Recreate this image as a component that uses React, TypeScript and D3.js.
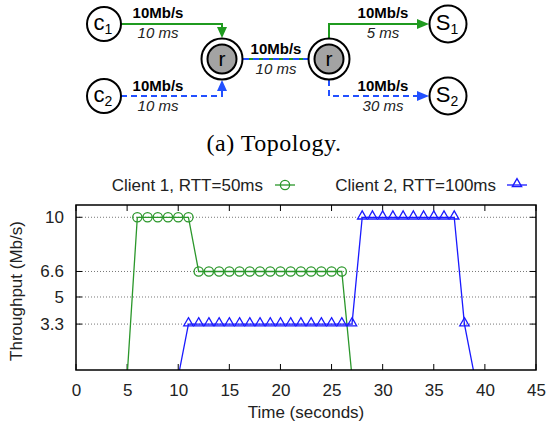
import * as d3 from "d3";
import { useEffect, useRef } from "react";

// Data
const client1Times = [5, 6, 7, 8, 9, 10, 11, 12, 13, 14, 15, 16, 17, 18, 19, 20, 21, 22, 23, 24, 25, 26, 27];
const client1Values = [0, 10, 10, 10, 10, 10, 10, 6.6, 6.6, 6.6, 6.6, 6.6, 6.6, 6.6, 6.6, 6.6, 6.6, 6.6, 6.6, 6.6, 6.6, 6.6, 0];
const client2Times = [10, 11, 12, 13, 14, 15, 16, 17, 18, 19, 20, 21, 22, 23, 24, 25, 26, 27, 28, 29, 30, 31, 32, 33, 34, 35, 36, 37, 38, 39];
const client2Values = [0, 3.3, 3.3, 3.3, 3.3, 3.3, 3.3, 3.3, 3.3, 3.3, 3.3, 3.3, 3.3, 3.3, 3.3, 3.3, 3.3, 3.3, 10, 10, 10, 10, 10, 10, 10, 10, 10, 10, 3.3, 0];
const xTicks = [0, 5, 10, 15, 20, 25, 30, 35, 40, 45];
const yTicks = [3.3, 5, 6.6, 10];
const seriesNames = ["Client 1, RTT=50ms", "Client 2, RTT=100ms"];

const GREEN = "#2b972b";
const BLUE = "#1a1aff";
const TOPO_GREEN = "#1f9a1f";
const TOPO_BLUE = "#2250ff";
const SANS = "'Liberation Sans', Arial, sans-serif";
const INK = "#222";

const drawTopology = (svg) => {
  const g = svg.append("g");

  // links
  const solid = (pts, color) =>
    g.append("path").attr("d", d3.line()(pts)).attr("fill", "none")
      .attr("stroke", color).attr("stroke-width", 2);
  const dashed = (pts, color) =>
    g.append("path").attr("d", d3.line()(pts)).attr("fill", "none")
      .attr("stroke", color).attr("stroke-width", 2).attr("stroke-dasharray", "6,4");
  const arrow = (x, y, dir, color) => {
    // dir: "down" | "up" | "right"
    let pts;
    if (dir === "down") pts = [[x, y], [x - 5, y - 11], [x + 5, y - 11]];
    else if (dir === "up") pts = [[x, y], [x - 5, y + 11], [x + 5, y + 11]];
    else pts = [[x, y], [x - 12, y - 5], [x - 12, y + 5]];
    g.append("polygon").attr("points", pts.map(p => p.join(",")).join(" ")).attr("fill", color);
  };

  solid([[121, 24], [222, 24], [222, 30]], TOPO_GREEN);
  arrow(222, 38, "down", TOPO_GREEN);
  dashed([[121, 96], [222, 96], [222, 89]], TOPO_BLUE);
  arrow(222, 80, "up", TOPO_BLUE);

  solid([[243, 59], [308, 59]], TOPO_GREEN);
  dashed([[243, 59], [308, 59]], TOPO_BLUE);

  solid([[329, 38], [329, 24], [420, 24]], TOPO_GREEN);
  arrow(429, 24, "right", TOPO_GREEN);
  dashed([[329, 80], [329, 96], [420, 96]], TOPO_BLUE);
  arrow(429, 96, "right", TOPO_BLUE);

  // end nodes
  const node = (cx, cy, r, letter, sub) => {
    g.append("circle").attr("cx", cx).attr("cy", cy).attr("r", r)
      .attr("fill", "white").attr("stroke", "black").attr("stroke-width", 2);
    const t = g.append("text").attr("x", cx - 1).attr("y", cy + 6)
      .attr("text-anchor", "middle").style("font-family", SANS).style("font-size", "22px");
    t.append("tspan").text(letter);
    t.append("tspan").attr("dy", 4).style("font-size", "14px").text(sub);
  };
  node(104, 24, 17, "c", "1");
  node(104, 96, 17, "c", "2");
  node(448, 24, 18.5, "S", "1");
  node(448, 96, 18.5, "S", "2");

  // routers
  [222, 329].forEach(cx => {
    g.append("circle").attr("cx", cx).attr("cy", 59).attr("r", 20.5)
      .attr("fill", "white").attr("stroke", "black").attr("stroke-width", 2);
    g.append("circle").attr("cx", cx).attr("cy", 59).attr("r", 14.5)
      .attr("fill", "#a3a3a3").attr("stroke", "black").attr("stroke-width", 2);
    g.append("text").attr("x", cx).attr("y", 66).attr("text-anchor", "middle")
      .style("font-family", SANS).style("font-size", "21px").text("r");
  });

  // link labels
  const linkLabels = [
    { x: 158, y: 18, rate: "10Mb/s", delay: "10 ms" },
    { x: 158, y: 90.5, rate: "10Mb/s", delay: "10 ms" },
    { x: 276, y: 54, rate: "10Mb/s", delay: "10 ms" },
    { x: 383, y: 18, rate: "10Mb/s", delay: "5 ms" },
    { x: 383, y: 90.5, rate: "10Mb/s", delay: "30 ms" },
  ];
  linkLabels.forEach(l => {
    g.append("text").attr("x", l.x).attr("y", l.y).attr("text-anchor", "middle")
      .style("font-family", SANS).style("font-size", "15px").style("font-weight", "bold")
      .text(l.rate);
    g.append("text").attr("x", l.x).attr("y", l.y + 20).attr("text-anchor", "middle")
      .style("font-family", SANS).style("font-size", "15px").style("font-style", "italic")
      .style("fill", "#222").text(l.delay);
  });

  // caption
  svg.append("text").attr("x", 274).attr("y", 151).attr("text-anchor", "middle")
    .style("font-family", "'Liberation Serif', 'Times New Roman', serif")
    .style("font-size", "24px").style("letter-spacing", "0.5px")
    .text("(a) Topology.");
};

const drawChart = (svg) => {
  const margin = { top: 205, left: 76, right: 13, bottom: 54 };
  const width = 549 - margin.left - margin.right;
  const height = 424 - margin.top - margin.bottom;

  const g = svg.append("g").attr("transform", `translate(${margin.left},${margin.top})`);

  const xScale = d3.scaleLinear().domain([0, 45]).range([0, width]);
  const yScale = d3.scaleLinear().domain([0.42, 10.77]).range([height, 0]);

  // grid
  g.selectAll(".grid").data(yTicks).enter().append("line")
    .attr("x1", 0).attr("x2", width)
    .attr("y1", d => yScale(d)).attr("y2", d => yScale(d))
    .attr("stroke", "#777").attr("stroke-width", 1).attr("stroke-dasharray", "1,2");

  // axes: labels via d3 axes, inward ticks
  const xAxis = d3.axisBottom(xScale).tickValues(xTicks).tickSize(0).tickPadding(14);
  const xg = g.append("g").attr("transform", `translate(0,${height})`).call(xAxis);
  xg.select(".domain").remove();
  xg.selectAll("text").style("font-family", SANS).style("font-size", "17px").style("fill", INK);

  const yAxis = d3.axisLeft(yScale).tickValues(yTicks).tickFormat(d3.format("")).tickSize(0).tickPadding(12);
  const yg = g.append("g").call(yAxis);
  yg.select(".domain").remove();
  yg.selectAll("text").style("font-family", SANS).style("font-size", "17px").style("fill", INK);

  // inward tick marks
  xTicks.forEach(t => {
    g.append("line").attr("x1", xScale(t)).attr("x2", xScale(t)).attr("y1", height).attr("y2", height - 6)
      .attr("stroke", "black");
    g.append("line").attr("x1", xScale(t)).attr("x2", xScale(t)).attr("y1", 0).attr("y2", 6)
      .attr("stroke", "black");
  });
  yTicks.forEach(t => {
    g.append("line").attr("x1", 0).attr("x2", 6).attr("y1", yScale(t)).attr("y2", yScale(t))
      .attr("stroke", "black");
    g.append("line").attr("x1", width).attr("x2", width - 6).attr("y1", yScale(t)).attr("y2", yScale(t))
      .attr("stroke", "black");
  });

  // clip
  svg.append("defs").append("clipPath").attr("id", "plot-clip")
    .append("rect").attr("width", width).attr("height", height);
  const plot = g.append("g").attr("clip-path", "url(#plot-clip)");

  const line = d3.line().x(d => xScale(d.t)).y(d => yScale(d.v));
  const s1 = client1Times.map((t, i) => ({ t, v: client1Values[i] }));
  const s2 = client2Times.map((t, i) => ({ t, v: client2Values[i] }));
  const inRange = d => d.v >= yScale.domain()[0] && d.v <= yScale.domain()[1];

  plot.append("path").datum(s1).attr("fill", "none").attr("stroke", GREEN).attr("stroke-width", 1.3).attr("d", line);
  plot.append("path").datum(s2).attr("fill", "none").attr("stroke", BLUE).attr("stroke-width", 1.3).attr("d", line);

  plot.selectAll(".c1").data(s1.filter(inRange)).enter().append("circle")
    .attr("cx", d => xScale(d.t)).attr("cy", d => yScale(d.v)).attr("r", 4.6)
    .attr("fill", "none").attr("stroke", GREEN).attr("stroke-width", 1.3);

  const tri = d3.symbol().type(d3.symbolTriangle).size(38);
  plot.selectAll(".c2").data(s2.filter(inRange)).enter().append("path")
    .attr("d", tri).attr("transform", d => `translate(${xScale(d.t)},${yScale(d.v) - 1})`)
    .attr("fill", "none").attr("stroke", BLUE).attr("stroke-width", 1.3);

  // border
  g.append("rect").attr("width", width).attr("height", height)
    .attr("fill", "none").attr("stroke", "black").attr("stroke-width", 1.5);

  // axis names
  svg.append("text").attr("text-anchor", "middle")
    .attr("x", margin.left + width / 2).attr("y", 418)
    .style("font-family", SANS).style("font-size", "17px").style("fill", INK)
    .text("Time (seconds)");
  svg.append("text").attr("text-anchor", "middle")
    .attr("transform", "rotate(-90)")
    .attr("x", -291).attr("y", 22)
    .style("font-family", SANS).style("font-size", "17px").style("fill", INK)
    .text("Throughput (Mb/s)");

  // legend
  const legend = [
    { textX: 263, x0: 275, name: seriesNames[0], color: GREEN, marker: "circle" },
    { textX: 496, x0: 507, name: seriesNames[1], color: BLUE, marker: "tri" },
  ];
  legend.forEach(l => {
    svg.append("text").attr("x", l.textX).attr("y", 190.5).attr("text-anchor", "end")
      .style("font-family", SANS).style("font-size", "17px").style("fill", INK).text(l.name);
    svg.append("line").attr("x1", l.x0).attr("x2", l.x0 + 20).attr("y1", 185).attr("y2", 185)
      .attr("stroke", l.color).attr("stroke-width", 1.3);
    if (l.marker === "circle") {
      svg.append("circle").attr("cx", l.x0 + 10).attr("cy", 185).attr("r", 4.6)
        .attr("fill", "none").attr("stroke", l.color).attr("stroke-width", 1.3);
    } else {
      svg.append("path").attr("d", tri).attr("transform", `translate(${l.x0 + 10},184)`)
        .attr("fill", "none").attr("stroke", l.color).attr("stroke-width", 1.3);
    }
  });
};

export default function App() {
  const ref = useRef(null);

  useEffect(() => {
    const svg = d3.select(ref.current);
    svg.selectAll("*").remove();
    svg.append("rect").attr("width", 549).attr("height", 424).attr("fill", "white");
    drawTopology(svg);
    drawChart(svg);
  }, []);

  return (
    <svg ref={ref} width={549} height={424}
      style={{ position: "absolute", left: 0, top: 0 }} />
  );
}
